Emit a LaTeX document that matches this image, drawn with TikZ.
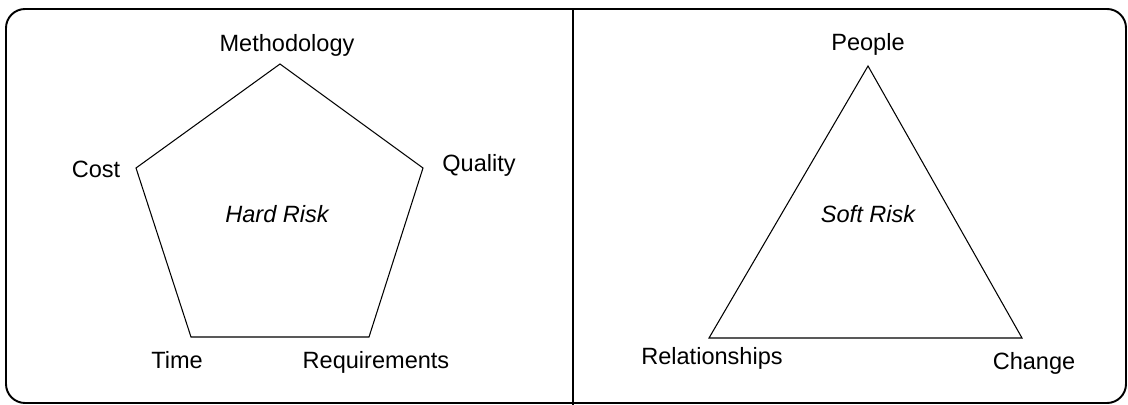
\documentclass[tikz,border=0pt]{standalone}
\usepackage{fontspec}
\setmainfont{Liberation Sans}
\usepackage{tikz}

\begin{document}
\begin{tikzpicture}[x=0.02cm, y=-0.02cm, line width=0.6pt,
  every node/.style={draw=none, inner sep=0pt, anchor=base, font=\fontsize{13.4}{16}\selectfont}]
\useasboundingbox (0,0) rectangle (1128,405);
% Frame and divider
\draw[line width=1.1pt, rounded corners=0.38cm] (6,9) rectangle (1126,403);
\coordinate (D1) at (573,9);
\coordinate (D2) at (573,405);
\draw[line width=1.1pt] (D1) -- (D2);

% Corners of the pentagon
\coordinate (M) at (280,64);
\coordinate (Q) at (423,168);
\coordinate (R) at (369,337);
\coordinate (T) at (191,337);
\coordinate (C) at (136,168);

\node (LM) at (287,52) {Methodology};
\node (LQ) at (479,172) {Quality};
\node (LR) at (376,368) {Requirements};
\node (LT) at (177,368) {Time};
\node (LC) at (96,177) {Cost};
\node (HR) at (277,222) {\itshape Hard Risk};

% Corners of the triangle
\coordinate (P) at (868,66);
\coordinate (CH) at (1022,338);
\coordinate (RL) at (709,338);

\node (LP) at (868,51) {People};
\node (LCH) at (1034,369) {Change};
\node (LRL) at (712,364) {Relationships};
\node (SR) at (868,222) {\itshape Soft Risk};

% Draw the edges
\draw (M) -- (Q) -- (R) -- (T) -- (C) -- cycle;
\draw (P) -- (CH) -- (RL) -- cycle;
\end{tikzpicture}
\end{document}
